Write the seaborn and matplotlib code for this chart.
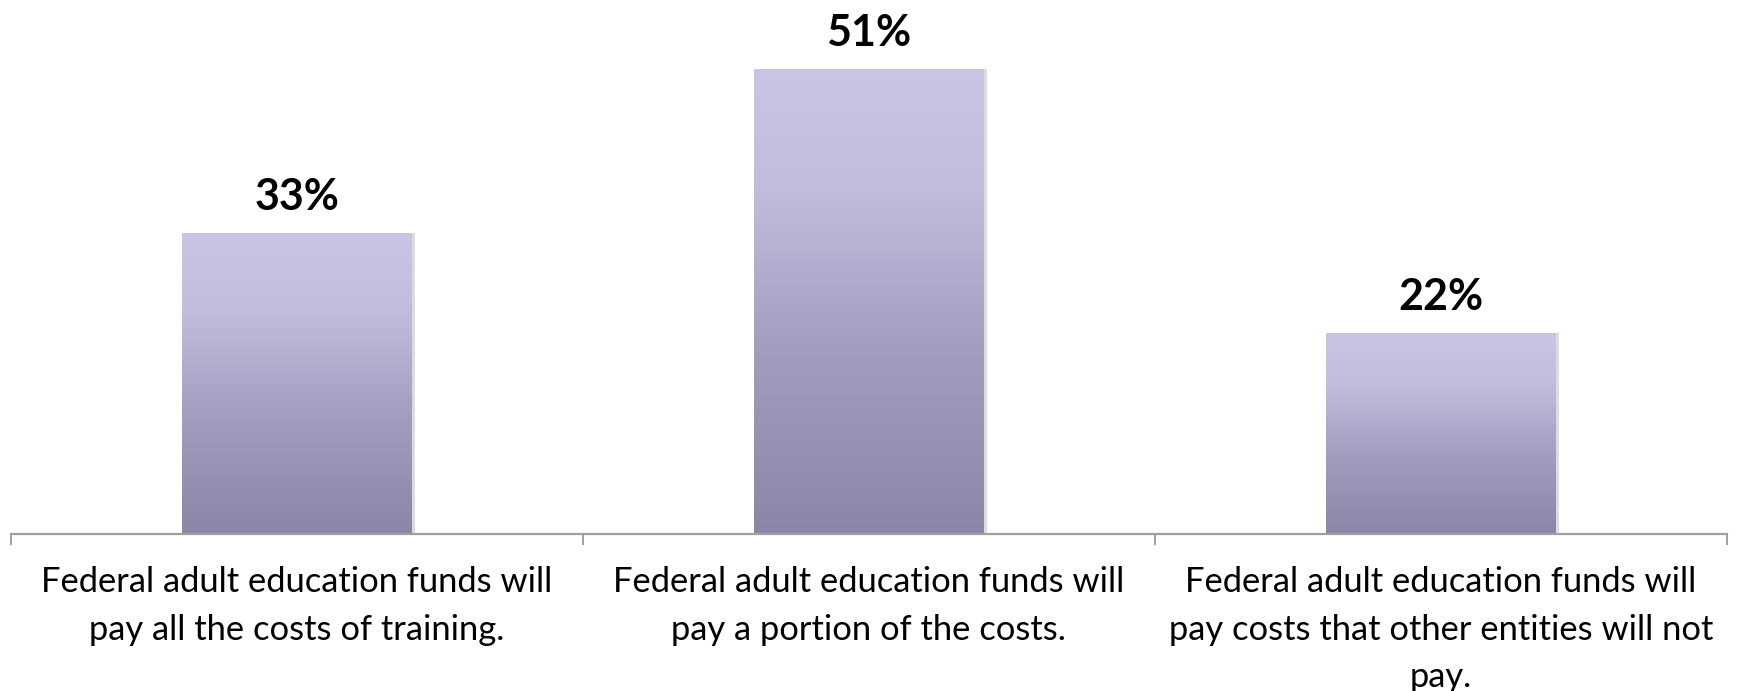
import numpy as np
import pandas as pd
import matplotlib
matplotlib.use("Agg")
import matplotlib.pyplot as plt
import seaborn as sns
from matplotlib.colors import LinearSegmentedColormap

categories = [
    "Federal adult education funds will\npay all the costs of training.",
    "Federal adult education funds will\npay a portion of the costs.",
    "Federal adult education funds will\npay costs that other entities will not\npay.",
]
values = [33, 51, 22]
value_labels = ["33%", "51%", "22%"]

sns.set_theme(style="white")
plt.rcParams["font.family"] = ["Lato", "DejaVu Sans"]

df = pd.DataFrame({"category": categories, "value": values})

fig = plt.figure(figsize=(17.37, 6.91), dpi=100)
ax = fig.add_axes([0.0063, 0.2272, 0.9879, 0.7656])

sns.barplot(data=df, x="category", y="value", ax=ax, width=0.402,
            color="#b0acd0", edgecolor="none", saturation=1)

ax.set_xlim(-0.5, 2.5)
ax.set_ylim(0, 58)

# vertical gradient fill, light at the top of each bar, darker at the base
grad = LinearSegmentedColormap.from_list(
    "bar_grad", [(0.0, "#8a86a8"), (0.4, "#a29ec0"), (0.75, "#c1bedd"), (1.0, "#c9c6e5")])
ramp = np.linspace(0, 1, 256).reshape(-1, 1)
for patch in ax.patches:
    x0, y0 = patch.get_x(), patch.get_y()
    w, h = patch.get_width(), patch.get_height()
    # soft shadow along the right edge
    ax.add_patch(plt.Rectangle((x0 + w, y0), 0.005, h, color="#dcdcdc",
                               zorder=1.5, linewidth=0))
    im = ax.imshow(ramp, cmap=grad, origin="lower", aspect="auto",
                   extent=(x0, x0 + w, y0, y0 + h), zorder=2)
    im.set_clip_path(patch)
    patch.set_facecolor("none")

for i, (v, lab) in enumerate(zip(values, value_labels)):
    ax.annotate(lab, (i, v), xytext=(0, 36), textcoords="offset pixels",
                ha="center", va="center", fontsize=31, fontweight="bold",
                color="black")

for side in ("top", "right", "left"):
    ax.spines[side].set_visible(False)
ax.spines["bottom"].set_color("#a0a0a0")
ax.spines["bottom"].set_linewidth(1.6)

ax.set_yticks([])
ax.set_xlabel("")
ax.set_ylabel("")
ax.set_xticks([0, 1, 2])
ax.set_xticklabels(categories, fontsize=24.8, linespacing=1.6, color="black")
ax.tick_params(axis="x", which="major", length=0, pad=23)
ax.set_xticks([-0.5, 0.5, 1.5, 2.5], minor=True)
ax.tick_params(axis="x", which="minor", bottom=True, length=8, width=1.4,
               color="#a0a0a0", direction="out")

fig.savefig("out.png", dpi=100, facecolor="white")
